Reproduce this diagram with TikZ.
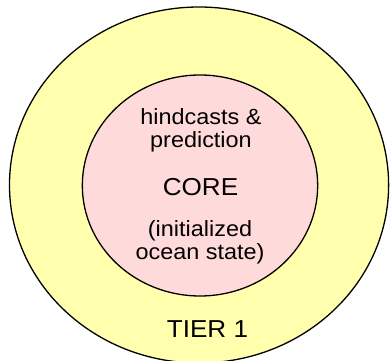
\documentclass[tikz,border=0pt]{standalone}
\usepackage{fontspec}
\setmainfont{Liberation Sans}
\definecolor{tierYellow}{HTML}{FFFFAD}
\definecolor{corePink}{HTML}{FFDADA}
\tikzset{
	ring/.style={circle,draw=black,line width=1.3pt,inner sep=0pt,transform shape},
	label/.style={text=black,align=center,anchor=base,transform shape,font=\fontsize{22}{23}\selectfont},
	bigLabel/.style={label,font=\fontsize{24.5}{26}\selectfont}
}

\begin{document}
\begin{tikzpicture}[x=1pt,y=1pt]
		\newcommand{\tierSize}{356}
		\newcommand{\coreSize}{221}
		
		\useasboundingbox (0,0) rectangle (391,361);	% page
		\fill[white] (0,0) rectangle (391,361);		% background
		
		\begin{scope}[xscale=1.065]
		% rings
		\node[ring,fill=tierYellow,minimum size=\tierSize] (tier) at (186.9,176) {};
		\node[ring,fill=corePink,minimum size=\coreSize] (core) at (187.8,175.5) {};
		
		% texts (base = last line)
		\node[label] (hindcast) at (188.7,213) {hindcasts \&\\prediction};
		\node[bigLabel] (coreName) at (188.3,165) {CORE};
		\node[label] (oceanState) at (187.8,101) {(initialized\\ocean state)};
		\node[bigLabel] (tierName) at (194.8,23) {TIER 1};
		\end{scope}
\end{tikzpicture}
\end{document}
